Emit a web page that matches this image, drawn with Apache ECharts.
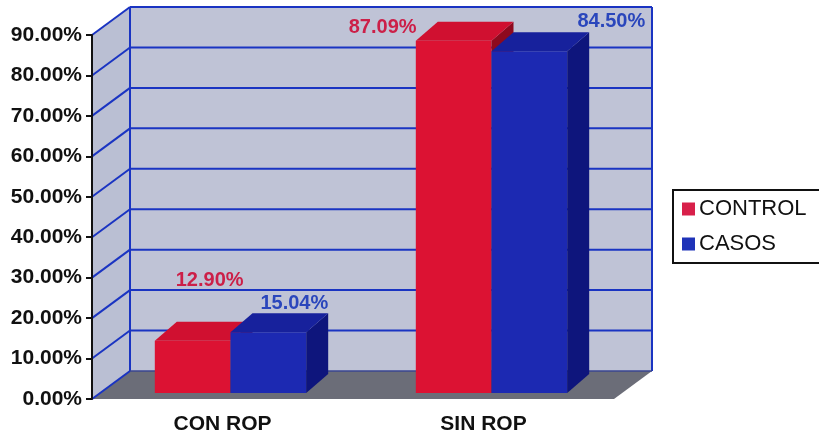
<!DOCTYPE html>
<html>
<head>
<meta charset="utf-8">
<script src="https://cdn.jsdelivr.net/npm/echarts@6/dist/echarts.min.js"></script>
<style>
  html, body { margin: 0; padding: 0; background: #ffffff; }
  #chart { width: 819px; height: 436px; }
</style>
</head>
<body>
<div id="chart"></div>
<script>
// Chart data
const categories = ['CON ROP', 'SIN ROP'];
const seriesNames = ['CONTROL', 'CASOS'];
const controlValues = [12.90, 87.09];
const casosValues = [15.04, 84.50];
const tickValues = [0, 10, 20, 30, 40, 50, 60, 70, 80, 90];
const tickLabels = ['0.00%', '10.00%', '20.00%', '30.00%', '40.00%', '50.00%', '60.00%', '70.00%', '80.00%', '90.00%'];

// Pseudo-3D styling
const FONT = "'Liberation Sans', Arial, sans-serif";
const WALL_DEPTH = [38, -28];   // offset of back wall relative to front plane
const BAR_FRONT = [8, -6];      // bars sit slightly behind the front plane
const BAR_DEPTH = [22, -19];    // depth of each bar
const BAR_RATIO = 0.29;         // bar width as a share of a category band
const palette = {
  control: { front: '#dc1233', top: '#d01030', side: '#8e0a1e', label: '#cc1f48', legend: '#d8204a' },
  casos:   { front: '#1c29b2', top: '#17219c', side: '#0e157c', label: '#2a46bc', legend: '#1f33b8' }
};
// label placement relative to the back-top centre of each bar
const labelNudge = [
  [[-5, -41], [-93, 6]],
  [[4, -10], [60, -11]]
];

function renderFrame(params, api) {
  const cs = params.coordSys;
  const x0 = cs.x, x1 = cs.x + cs.width;
  const dx = WALL_DEPTH[0], dy = WALL_DEPTH[1];
  const yOf = v => api.coord([0, v])[1];
  const yTop = yOf(tickValues[tickValues.length - 1]);
  const yBot = yOf(0);
  const children = [];
  // back wall
  children.push({ type: 'rect', shape: { x: x0 + dx, y: yTop + dy, width: x1 - x0, height: yBot - yTop },
    style: { fill: '#bfc3d6' } });
  // left side wall
  children.push({ type: 'polygon', shape: { points: [[x0, yTop], [x0 + dx, yTop + dy], [x0 + dx, yBot + dy], [x0, yBot]] },
    style: { fill: '#babfd3' } });
  // floor
  children.push({ type: 'polygon', shape: { points: [[x0, yBot], [x1, yBot], [x1 + dx, yBot + dy], [x0 + dx, yBot + dy]] },
    style: { fill: '#6b6d78' } });
  const lineStyle = { stroke: '#1a34c2', lineWidth: 2 };
  tickValues.forEach(v => {
    const y = yOf(v);
    if (v > 0) {
      children.push({ type: 'line', shape: { x1: x0 + dx, y1: y + dy, x2: x1 + dx, y2: y + dy }, style: lineStyle });
    }
    children.push({ type: 'line', shape: { x1: x0, y1: y, x2: x0 + dx, y2: y + dy }, style: lineStyle });
  });
  // back wall edges
  children.push({ type: 'line', shape: { x1: x0 + dx, y1: yTop + dy, x2: x0 + dx, y2: yBot + dy }, style: lineStyle });
  children.push({ type: 'line', shape: { x1: x1 + dx, y1: yTop + dy, x2: x1 + dx, y2: yBot + dy }, style: lineStyle });
  children.push({ type: 'line', shape: { x1: x0 + dx, y1: yBot + dy, x2: x1 + dx, y2: yBot + dy },
    style: { stroke: '#3a4690', lineWidth: 1.5 } });
  return { type: 'group', children };
}

function makeBarRenderer(seriesIdx, colors) {
  return function (params, api) {
    const cat = api.value(0);
    const val = api.value(1);
    const base = api.coord([cat, 0]);
    const top = api.coord([cat, val]);
    const band = api.size([1, 0])[0];
    const w = band * BAR_RATIO;
    const xl = base[0] + BAR_FRONT[0] + (seriesIdx === 0 ? -w : 0);
    const xr = xl + w;
    const yb = base[1] + BAR_FRONT[1];
    const yt = top[1] + BAR_FRONT[1];
    const dx = BAR_DEPTH[0], dy = BAR_DEPTH[1];
    const nudge = labelNudge[seriesIdx][params.dataIndex];
    return {
      type: 'group',
      children: [
        { type: 'rect', shape: { x: xl, y: yt, width: w, height: yb - yt }, style: { fill: colors.front } },
        { type: 'polygon', shape: { points: [[xr, yt], [xr, yb], [xr + dx, yb + dy], [xr + dx, yt + dy]] },
          style: { fill: colors.side } },
        { type: 'polygon', shape: { points: [[xl, yt], [xr, yt], [xr + dx, yt + dy], [xl + dx, yt + dy]] },
          style: { fill: colors.top } },
        { type: 'text', z2: 10,
          style: { text: val.toFixed(2) + '%', x: (xl + xr) / 2 + dx + nudge[0], y: yt + dy + nudge[1],
            align: 'center', verticalAlign: 'middle', fill: colors.label,
            font: 'bold 20px ' + FONT } }
      ]
    };
  };
}

const chart = echarts.init(document.getElementById('chart'), null, { renderer: 'canvas' });
chart.setOption({
  backgroundColor: '#ffffff',
  animation: false,
  grid: { left: 92, right: 205, top: 35, bottom: 37 },
  legend: {
    orient: 'vertical',
    left: 673, top: 190,
    padding: [8, 40, 8, 9],
    itemGap: 13,
    itemWidth: 13, itemHeight: 13,
    icon: 'rect',
    borderColor: '#111111', borderWidth: 2,
    textStyle: { fontFamily: FONT, fontSize: 22, color: '#111111', lineHeight: 22, padding: [0, 0, 0, -1] },
    data: [
      { name: seriesNames[0], itemStyle: { color: palette.control.legend } },
      { name: seriesNames[1], itemStyle: { color: palette.casos.legend } }
    ]
  },
  xAxis: {
    type: 'category',
    data: categories,
    axisLine: { show: false },
    axisTick: { show: false },
    axisLabel: { margin: 15, fontFamily: FONT, fontSize: 21, fontWeight: 'bold', color: '#111111' }
  },
  yAxis: {
    type: 'value',
    min: 0, max: 90, interval: 10,
    z: 5,
    axisLine: { show: true, lineStyle: { color: '#111111', width: 2 } },
    axisTick: { show: true, length: 6, lineStyle: { color: '#111111', width: 2 } },
    splitLine: { show: false },
    axisLabel: {
      margin: 10, fontFamily: FONT, fontSize: 21, fontWeight: 'bold', color: '#111111',
      formatter: v => tickLabels[tickValues.indexOf(v)]
    }
  },
  series: [
    { type: 'custom', name: 'frame', z: 1, silent: true, renderItem: renderFrame, data: [[0, 0]], tooltip: { show: false } },
    { type: 'custom', name: seriesNames[0], z: 3, renderItem: makeBarRenderer(0, palette.control),
      itemStyle: { color: palette.control.legend },
      data: controlValues.map((v, i) => [i, v]) },
    { type: 'custom', name: seriesNames[1], z: 3, renderItem: makeBarRenderer(1, palette.casos),
      itemStyle: { color: palette.casos.legend },
      data: casosValues.map((v, i) => [i, v]) }
  ]
});
</script>
</body>
</html>
